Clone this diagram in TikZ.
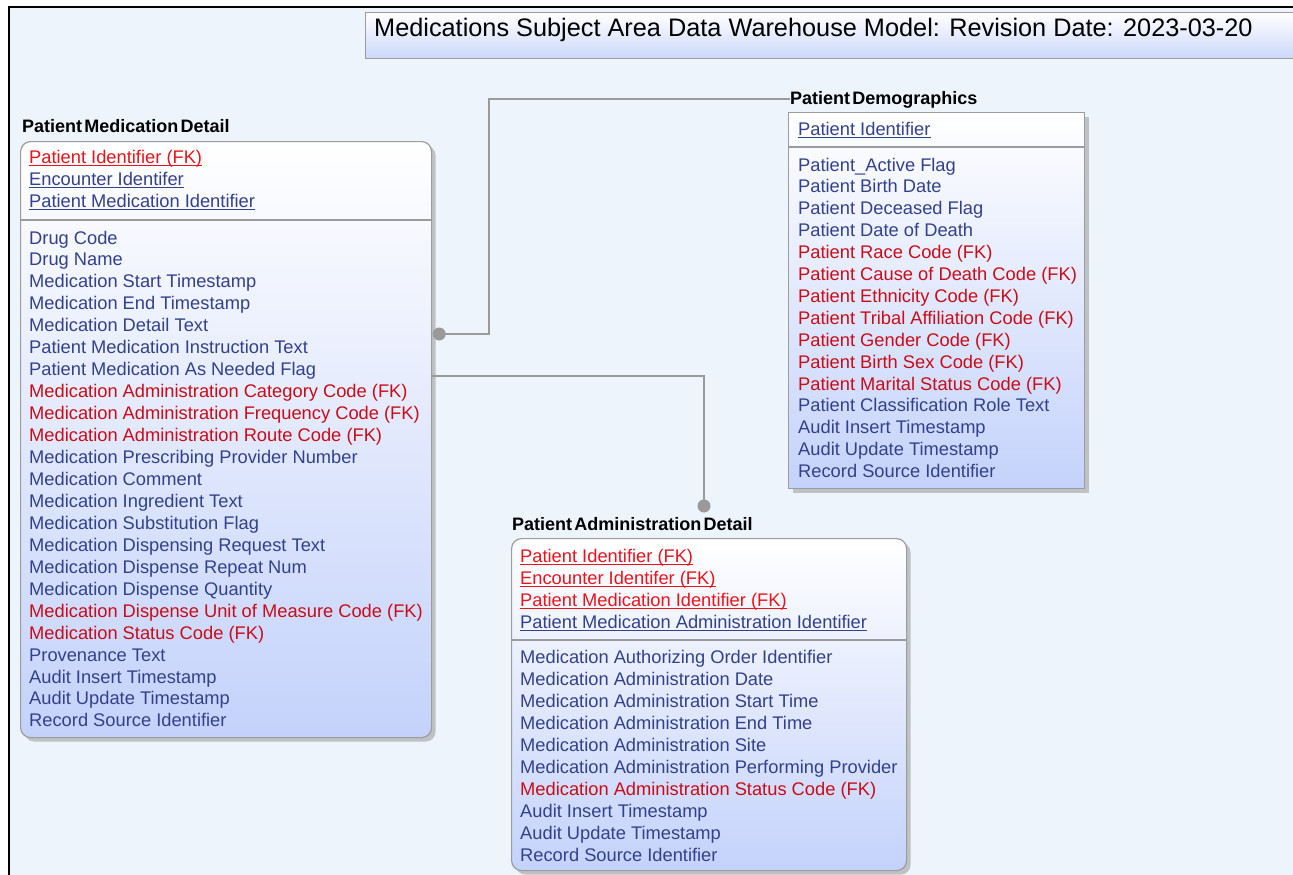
\documentclass[tikz,border=0pt]{standalone}
\usepackage{fontspec}
\setmainfont{Liberation Sans}
\newfontfamily\etfont[WordSpace=0.45]{Liberation Sans}
\usetikzlibrary{calc,shadows}
\definecolor{bgblue}{HTML}{EEF4FB}
\definecolor{attblue}{HTML}{33418B}
\definecolor{keyred}{HTML}{E8141C}
\definecolor{fkred}{HTML}{C80C18}
\definecolor{boxgray}{HTML}{9C9C9C}
\definecolor{entblue}{HTML}{C4D2FB}
\definecolor{titleblue}{HTML}{CCD8FA}
\definecolor{conngray}{HTML}{9A9A9A}
\newcommand\keyrow[5]{%
  \node[row, text=#4] (#1) at (#2,#3) {#5};
  \draw[#4, line width=1pt] ([yshift=-2pt]#1.base west) -- ([yshift=-2pt]#1.base east);}
\begin{document}
\begin{tikzpicture}[x=1pt,y=-1pt,
  entbox/.style={draw=boxgray, line width=1.2pt, top color=white, bottom color=entblue,
    anchor=north west, inner sep=0pt,
    drop shadow={shadow xshift=4pt, shadow yshift=-4pt, fill=gray!80, opacity=0.55}},
  titlebox/.style={draw=boxgray, line width=1.2pt, top color=white, bottom color=titleblue,
    anchor=north west, inner sep=0pt},
  sepline/.style={draw=boxgray, line width=1.2pt},
  row/.style={anchor=base west, inner sep=0pt, font=\fontsize{18.3}{20}\selectfont, text=attblue},
  enttitle/.style={anchor=base west, inner sep=0pt, font=\etfont\bfseries\fontsize{18}{20}\selectfont, text=black},
  conn/.style={draw=conngray, line width=1.3pt},
  dotnode/.style={circle, fill=conngray, inner sep=0pt, minimum size=13pt}
]
\useasboundingbox (0,0) rectangle (1293,875);
\clip (0,0) rectangle (1293,875);
% background and frame
\fill[bgblue] (9,7) rectangle (1300,880);
\draw[black, line width=2pt] (9,880) -- (9,7) -- (1300,7);

% title
\node[titlebox, minimum width=940pt, minimum height=46pt] (titlebox) at (365,12) {};
\node[anchor=base west, inner sep=0pt, font=\fontsize{25.3}{28}\selectfont] (titletext) at (374,37)
  {Medications Subject Area Data Warehouse Model: Revision Date: 2023-03-20};

% ---------- Patient Medication Detail ----------
\node[enttitle] (pmdt) at (22,132) {Patient Medication Detail};
\node[entbox, rounded corners=10pt, minimum width=411pt, minimum height=596pt] (pmd) at (20,141) {};
\draw[sepline] ($(pmd.north west)+(0,79)$) -- ($(pmd.north east)+(0,79)$);
\keyrow{pmdk1}{29}{163}{keyred}{Patient Identifier (FK)}
\keyrow{pmdk2}{29}{185}{attblue}{Encounter Identifer}
\keyrow{pmdk3}{29}{207}{attblue}{Patient Medication Identifier}
\foreach \t/\c [count=\i from 0] in {
  Drug Code/attblue, Drug Name/attblue, Medication Start Timestamp/attblue,
  Medication End Timestamp/attblue, Medication Detail Text/attblue,
  Patient Medication Instruction Text/attblue, Patient Medication As Needed Flag/attblue,
  Medication Administration Category Code (FK)/fkred,
  Medication Administration Frequency Code (FK)/fkred,
  Medication Administration Route Code (FK)/fkred,
  Medication Prescribing Provider Number/attblue, Medication Comment/attblue,
  Medication Ingredient Text/attblue, Medication Substitution Flag/attblue,
  Medication Dispensing Request Text/attblue, Medication Dispense Repeat Num/attblue,
  Medication Dispense Quantity/attblue,
  Medication Dispense Unit of Measure Code (FK)/fkred,
  Medication Status Code (FK)/fkred, Provenance Text/attblue,
  Audit Insert Timestamp/attblue, Audit Update Timestamp/attblue,
  Record Source Identifier/attblue}
  \node[row, text=\c] (pmdr\i) at (29,244+21.95*\i) {\t};

% ---------- Patient Demographics ----------
\node[enttitle] (pdt) at (790,104) {Patient Demographics};
\node[entbox, minimum width=296pt, minimum height=376pt] (pd) at (788,112) {};
\draw[sepline] ($(pd.north west)+(0,35)$) -- ($(pd.north east)+(0,35)$);
\keyrow{pdk1}{798}{135}{attblue}{Patient Identifier}
\foreach \t/\c [count=\i from 0] in {
  Patient\_Active Flag/attblue, Patient Birth Date/attblue, Patient Deceased Flag/attblue,
  Patient Date of Death/attblue, Patient Race Code (FK)/fkred,
  Patient Cause of Death Code (FK)/fkred, Patient Ethnicity Code (FK)/fkred,
  Patient Tribal Affiliation Code (FK)/fkred, Patient Gender Code (FK)/fkred,
  Patient Birth Sex Code (FK)/fkred, Patient Marital Status Code (FK)/fkred,
  Patient Classification Role Text/attblue, Audit Insert Timestamp/attblue,
  Audit Update Timestamp/attblue, Record Source Identifier/attblue}
  \node[row, text=\c] (pdr\i) at (798,171+21.9*\i) {\t};

% ---------- Patient Administration Detail ----------
\node[enttitle] (padt) at (512,530) {Patient Administration Detail};
\node[entbox, rounded corners=10pt, minimum width=395pt, minimum height=332pt] (pad) at (511,538) {};
\draw[sepline] ($(pad.north west)+(0,102)$) -- ($(pad.north east)+(0,102)$);
\keyrow{padk1}{520}{562}{keyred}{Patient Identifier (FK)}
\keyrow{padk2}{520}{584}{keyred}{Encounter Identifer (FK)}
\keyrow{padk3}{520}{606}{keyred}{Patient Medication Identifier (FK)}
\keyrow{padk4}{520}{628}{attblue}{Patient Medication Administration Identifier}
\foreach \t/\c [count=\i from 0] in {
  Medication Authorizing Order Identifier/attblue, Medication Administration Date/attblue,
  Medication Administration Start Time/attblue, Medication Administration End Time/attblue,
  Medication Administration Site/attblue,
  Medication Administration Performing Provider/attblue,
  Medication Administration Status Code (FK)/fkred, Audit Insert Timestamp/attblue,
  Audit Update Timestamp/attblue, Record Source Identifier/attblue}
  \node[row, text=\c] (padr\i) at (520,663+22*\i) {\t};

% ---------- connectors ----------
\node[dotnode] (dot1) at ($(pmd.north east)+(7,193)$) {};
\coordinate (k1) at (489,99);
\draw[conn] (dot1.center) -| (k1) -- (pdt.west |- k1);
\node[dotnode] (dot2) at (704,506) {};
\draw[conn] ($(pmd.north east)+(0,235)$) -| (dot2.center);
\end{tikzpicture}
\end{document}
